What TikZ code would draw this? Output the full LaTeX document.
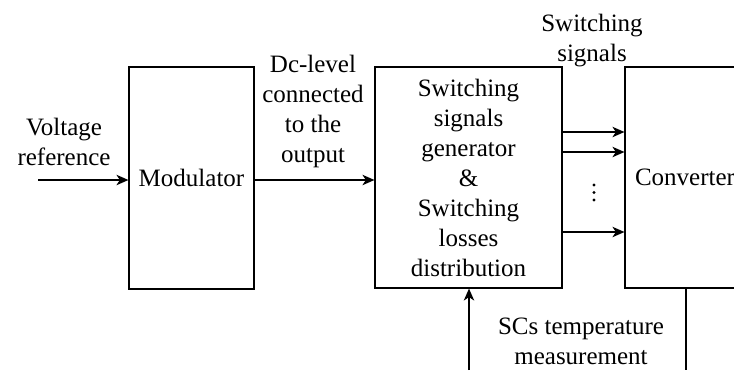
\documentclass[tikz,border=0pt]{standalone}
\usepackage{fontspec}
\setmainfont{Liberation Serif}
\usetikzlibrary{arrows.meta}
\tikzset{
  blk/.style={draw, line width=1.2pt, inner sep=0pt, align=center},
  lbl/.style={inner sep=0pt, align=center},
  conn/.style={line width=1.2pt, -{Stealth[length=12pt,width=10.5pt,inset=3.5pt]}},
  plain/.style={line width=1.2pt},
}
\begin{document}
\begin{tikzpicture}[x=1pt,y=-1pt,font=\fontsize{25}{30}\selectfont]
\useasboundingbox (0,0) rectangle (734,370);
\clip (0,0) rectangle (734,370);
% blocks
\node[blk, minimum width=125pt, minimum height=222pt] (mod) at (191.5,178) {Modulator};
\node[blk, minimum width=187pt, minimum height=221pt] (ssg) at (468.5,177.5)
  {Switching\\signals\\generator\\\&\\Switching\\losses\\distribution};
\node[blk, minimum width=120pt, minimum height=221pt] (conv) at (685,177.5) {Converter};
% labels
\node[lbl] (vref) at (64,141.5) {Voltage\\reference};
\node[lbl] (dc) at (313,111) {Dc-level\\connected\\to the\\output};
\node[lbl] (sw) at (592,41) {Switching\\signals};
\node[lbl] (scs) at (581,341) {SCs temperature\\measurement};
% free ends
\coordinate (in) at (38,180);
\coordinate (tin) at (469,370);
\coordinate (cout) at (686,370);
% connectors
\draw[conn] (in) -- (in -| mod.west);
\draw[conn] (mod.east |- 0,180) -- (ssg.west |- 0,180);
\draw[conn] (ssg.east |- 0,132) -- (conv.west |- 0,132);
\draw[conn] (ssg.east |- 0,152) -- (conv.west |- 0,152);
\draw[conn] (ssg.east |- 0,232) -- (conv.west |- 0,232);
\draw[conn] (tin) -- (tin |- ssg.south);
\draw[plain] (cout |- conv.south) -- (cout);
% dots
\fill (594,185) circle (1.7);
\fill (594,192.5) circle (1.7);
\fill (594,200) circle (1.7);
\end{tikzpicture}
\end{document}
